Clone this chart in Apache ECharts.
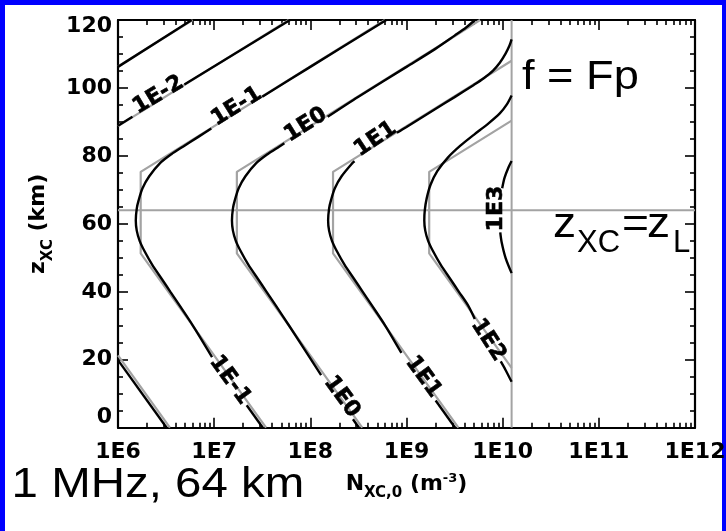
<!DOCTYPE html>
<html>
<head>
<meta charset="utf-8">
<script src="https://cdn.jsdelivr.net/npm/echarts@6/dist/echarts.min.js"></script>
<style>
  html, body { margin: 0; padding: 0; background: #0000ff; }
  #paper { position: absolute; left: 5px; top: 5px; width: 717px; height: 526px; background: #ffffff; }
  #chart { position: absolute; left: 0; top: 0; width: 726px; height: 531px; }
</style>
</head>
<body>
<div id="paper"></div>
<div id="chart"></div>
<script>
// Axis ticks
const xTickExponents = [6, 7, 8, 9, 10, 11, 12];
const yTickValues = [0, 20, 40, 60, 80, 100, 120];
const minorMantissas = [2, 3, 4, 5, 6, 7, 8, 9];

// Reference lines: reflection height z_L and the density where f = Fp at 1 MHz
const reflectionHeightKm = 64;
const cutoffLogN = 10.093;

// Full contours, points are [log10 N_XC,0, z_XC (km)]; null leaves room for a contour label
const blackLevelM3 = [[6.0, 106.2], [6.766, 120]];
const blackLevelM2 = [[6.0, 19.9], [6.506, 0], null,
  [6.0, 88.9], [6.15, 91.5], null, [6.69, 101.0], [7.789, 120]];
const blackLevelM1 = [[7.506, 0], [7.338, 6.6], null, [6.978, 20.8], [6.78, 30], [6.64, 36], [6.545, 40],
  [6.45, 44], [6.355, 48], [6.275, 52], [6.225, 55], [6.195, 58], [6.185, 61], [6.195, 64.5], [6.215, 67],
  [6.255, 70.5], [6.325, 74], [6.435, 77.8], [6.555, 80.5], [6.675, 82.7], [6.835, 85.6], [6.97, 88.1], null,
  [7.5, 97.4], [8.0, 106.2], [8.79, 120]];
const blackLevel0 = [[8.506, 0], [8.443, 2.5], null, [8.112, 15.5], [7.78, 30], [7.64, 36], [7.545, 40],
  [7.45, 44], [7.355, 48], [7.275, 52], [7.225, 55], [7.195, 58], [7.185, 61], [7.195, 64.5], [7.215, 67],
  [7.255, 70.5], [7.325, 74], [7.435, 77.8], [7.555, 80.5], [7.675, 82.7], [7.73, 83.7], null,
  [8.18, 91.5], [8.5, 97.4], [9.0, 106.2], [9.3, 111.5], [9.5, 115.4], [9.62, 117.8], [9.712, 120]];
const blackLevel1 = [[9.506, 0], [9.303, 8], null, [8.947, 22], [8.78, 30], [8.64, 36], [8.545, 40],
  [8.45, 44], [8.355, 48], [8.275, 52], [8.225, 55], [8.195, 58], [8.185, 61], [8.195, 64.5], [8.215, 67],
  [8.255, 70.5], [8.325, 74], [8.435, 77.8], [8.46, 78.4], null,
  [8.9, 86.8], [9.0, 88.5], [9.3, 93.8], [9.5, 97.3], [9.7, 100.9], [9.8, 102.8], [9.9, 105.1],
  [9.97, 107.4], [10.03, 110.1], [10.07, 112.4], [10.093, 114.3]];
const blackLevel2 = [[10.093, 13.5], [10.03, 17.0], [9.98, 19.5], null, [9.71, 32.0], [9.64, 36], [9.545, 40],
  [9.45, 44], [9.355, 48], [9.275, 52], [9.225, 55], [9.195, 58], [9.185, 61], [9.19, 64], [9.21, 67.5],
  [9.25, 71.5], [9.32, 75.5], [9.43, 79.5], [9.56, 83], [9.7, 86.2], [9.85, 89.5], [9.97, 92.5],
  [10.04, 95], [10.093, 97.8]];
const blackLevel3 = [[10.093, 78.5], [10.06, 76.6], [10.02, 73.6], [9.995, 70.5], null,
  [9.975, 57.5], [9.99, 54.5], [10.03, 50.0], [10.093, 45.5]];

// Approximate contours (grey)
const grayLevelM3 = [[6.0, 106.35], [6.776, 120]];
const grayLevelM2 = [[6.0, 21.3], [6.54, 0], null, [6.0, 88.75], [7.776, 120]];
const grayLevelM1 = [[7.54, 0], [6.236, 51.3], [6.236, 75.3], [8.776, 120]];
const grayLevel0 = [[8.54, 0], [7.236, 51.3], [7.236, 75.3], [9.5, 115.2], [9.765, 120]];
const grayLevel1 = [[9.54, 0], [8.236, 51.3], [8.236, 75.3], [10.093, 108.0]];
const grayLevel2 = [[10.093, 17.6], [9.236, 51.3], [9.236, 75.3], [10.093, 90.4]];

// Contour labels: text, log10 N, z, rotation (deg)
const contourLabels = [
  ['1E-2', 6.42, 97.9, 31],
  ['1E-1', 7.234, 94.5, 32],
  ['1E0', 7.952, 89.1, 32],
  ['1E1', 8.678, 84.9, 34],
  ['1E-1', 7.165, 14.0, -54],
  ['1E0', 8.326, 9.1, -54],
  ['1E1', 9.175, 15.0, -54],
  ['1E2', 9.85, 25.8, -57],
  ['1E3', 9.93, 64.5, 90]
];

const boldFont = 'DejaVu Sans';
const textFont = '"Liberation Sans", Arial, sans-serif';

const minorX = [];
for (let d = xTickExponents[0]; d < xTickExponents[xTickExponents.length - 1]; d++) {
  minorMantissas.forEach(m => minorX.push(d + Math.log10(m)));
}

function segments(points) {
  const out = [];
  let cur = [];
  points.forEach(p => {
    if (p === null) { if (cur.length) out.push(cur); cur = []; }
    else cur.push(p);
  });
  if (cur.length) out.push(cur);
  return out;
}

function lineSeries(points, color, width, z, smooth) {
  return segments(points).map(seg => ({
    type: 'line', data: seg, showSymbol: false, symbol: 'none', smooth: smooth,
    z: z, silent: true, clip: true,
    lineStyle: { color: color, width: width }
  }));
}

const grayColor = '#a3a3a3';
const series = [];
[grayLevelM3, grayLevelM2, grayLevelM1, grayLevel0, grayLevel1, grayLevel2]
  .forEach(p => series.push(...lineSeries(p, grayColor, 2.2, 2, false)));
series.push(...lineSeries([[xTickExponents[0], reflectionHeightKm], [xTickExponents[xTickExponents.length - 1], reflectionHeightKm]], grayColor, 2, 2, false));
series.push(...lineSeries([[cutoffLogN, yTickValues[0]], [cutoffLogN, yTickValues[yTickValues.length - 1]]], grayColor, 2, 2, false));
[blackLevelM3, blackLevelM2, blackLevelM1, blackLevel0, blackLevel1, blackLevel2, blackLevel3]
  .forEach(p => series.push(...lineSeries(p, '#000000', 2.4, 3, 0.3)));

series.push({
  type: 'scatter', z: 5, silent: true, symbolSize: 2,
  itemStyle: { color: 'rgba(0,0,0,0)' },
  data: contourLabels.map(l => ({
    name: l[0], value: [l[1], l[2]],
    label: { rotate: l[3] }
  })),
  label: {
    show: true, position: 'inside', formatter: p => p.name, opacity: 1,
    color: '#000000', fontFamily: boldFont, fontWeight: 'bold', fontSize: 22,
    textBorderColor: '#000000', textBorderWidth: 0.6
  },
  labelLayout: { hideOverlap: false }
});

const tickLine = { color: '#000', width: 1.6 };
const frameLine = { show: true, onZero: false, lineStyle: { color: '#000', width: 2.2 } };
const xMin = xTickExponents[0], xMax = xTickExponents[xTickExponents.length - 1];
const yMin = yTickValues[0], yMax = yTickValues[yTickValues.length - 1];

function xAxisDef(position, major, labelled) {
  return {
    type: 'value', position: position, min: xMin, max: xMax, interval: 1,
    axisLine: major ? frameLine : { show: false, onZero: false },
    axisTick: major
      ? { show: true, inside: true, length: 10, lineStyle: tickLine }
      : { show: true, inside: true, length: 5, customValues: minorX, lineStyle: tickLine },
    axisLabel: labelled
      ? { show: true, margin: 14, color: '#000', fontFamily: boldFont, fontWeight: 'bold', fontSize: 22,
          formatter: v => '1E' + Math.round(v) }
      : { show: false },
    splitLine: { show: false }
  };
}

function yAxisDef(position, labelled) {
  return {
    type: 'value', position: position, min: yMin, max: yMax, interval: 20,
    axisLine: frameLine,
    axisTick: { show: true, inside: true, length: 10, lineStyle: tickLine },
    minorTick: { show: true, splitNumber: 4, length: 5, lineStyle: tickLine },
    axisLabel: labelled
      ? { show: true, margin: 6, color: '#000', fontFamily: boldFont, fontWeight: 'bold', fontSize: 22,
          formatter: v => v === yMin ? '{lo|' + v + '}' : v === yMax ? '{hi|' + v + '}' : String(v),
          rich: {
            lo: { fontFamily: boldFont, fontWeight: 'bold', fontSize: 22, color: '#000', padding: [0, 0, 20, 0] },
            hi: { fontFamily: boldFont, fontWeight: 'bold', fontSize: 22, color: '#000', padding: [12, 0, 0, 0] }
          } }
      : { show: false },
    splitLine: { show: false }
  };
}

const xAxes = [xAxisDef('bottom', true, true), xAxisDef('bottom', false, false),
               xAxisDef('top', true, false), xAxisDef('top', false, false)];
xAxes[0].name = '{m|N}{s|XC,0}{m| (m}{p|-3}{m|)}';
xAxes[0].nameLocation = 'middle';
xAxes[0].nameGap = 40;
xAxes[0].nameTextStyle = {
  rich: {
    m: { fontFamily: boldFont, fontWeight: 'bold', fontSize: 22, color: '#000' },
    s: { fontFamily: boldFont, fontWeight: 'bold', fontSize: 15, color: '#000', padding: [18, 0, 0, 0] },
    p: { fontFamily: boldFont, fontWeight: 'bold', fontSize: 13, color: '#000', padding: [0, 0, 12, 0] }
  }
};

const yAxes = [yAxisDef('left', true), yAxisDef('right', false)];
yAxes[0].name = '{m|z}{s|XC}{m| (km)}';
yAxes[0].nameLocation = 'middle';
yAxes[0].nameRotate = 90;
yAxes[0].nameGap = 62;
yAxes[0].nameTextStyle = {
  rich: {
    m: { fontFamily: boldFont, fontWeight: 'bold', fontSize: 22, color: '#000' },
    s: { fontFamily: boldFont, fontWeight: 'bold', fontSize: 15, color: '#000', padding: [18, 0, 0, 0] }
  }
};

function annotation(text, x, y, size, sx) {
  return {
    type: 'text', x: x, y: y, scaleX: sx, z: 10, silent: true,
    style: { text: text, font: size + 'px ' + textFont, fill: '#000',
             align: 'left', textAlign: 'left', verticalAlign: 'middle', textVerticalAlign: 'middle' }
  };
}

const option = {
  animation: false,
  grid: { left: 118, right: 31, top: 20, bottom: 103.3, containLabel: false, outerBoundsMode: 'none' },
  xAxis: xAxes,
  yAxis: yAxes,
  series: series,
  graphic: [
    annotation('f = Fp', 522, 78, 40, 1.13),
    annotation('1 MHz, 64 km', 11.6, 485.4, 42, 1.13),
    annotation('z', 553, 225.4, 42, 1.1),
    annotation('XC', 577, 243.9, 31, 1.0),
    annotation('=', 622, 225.4, 42, 1.1),
    annotation('z', 647, 225.4, 42, 1.1),
    annotation('L', 673, 243.9, 31, 1.0)
  ]
};

const chart = echarts.init(document.getElementById('chart'));
chart.setOption(option);
</script>
</body>
</html>
